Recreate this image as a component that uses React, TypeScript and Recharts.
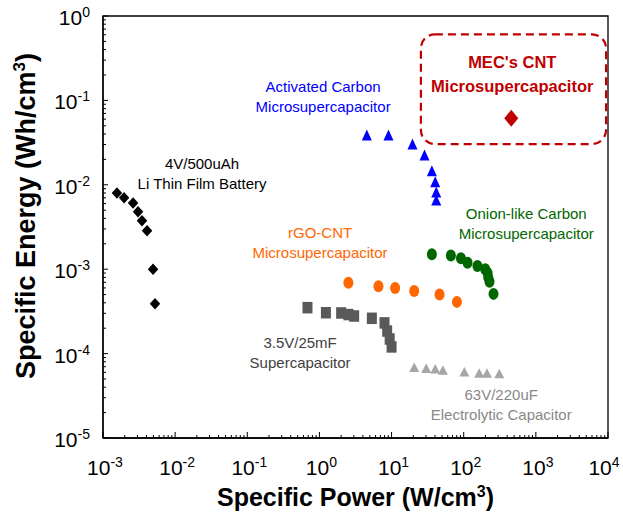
import React from "react";
import {
  ReferenceArea,
  ReferenceDot,
  Scatter,
  ScatterChart,
  XAxis,
  YAxis,
} from "recharts";

const FONT = '"Liberation Sans", Arial, sans-serif';

// 4V/500uAh Li thin film battery
const batteryPower = [1.56e-3, 1.96e-3, 2.61e-3, 3.06e-3, 3.47e-3, 4.08e-3, 4.94e-3, 5.26e-3];
const batteryEnergy = [8.0e-3, 7.0e-3, 6.1e-3, 4.8e-3, 3.76e-3, 2.86e-3, 1.0e-3, 3.9e-4];

// activated carbon microsupercapacitor
const acPower = [4.54, 9.06, 19.5, 28.6, 36.2, 40.3, 41.6, 41.6];
const acEnergy = [0.0389, 0.0389, 0.0304, 0.0226, 0.0147, 0.0109, 0.0082, 0.0066];

// rGO-CNT microsupercapacitor
const rgoPower = [2.52, 6.58, 11.2, 20.6, 46.2, 80.5];
const rgoEnergy = [6.9e-4, 6.3e-4, 6.0e-4, 5.5e-4, 5.0e-4, 4.1e-4];

// onion-like carbon microsupercapacitor
const onionPower = [36.2, 66.4, 91.5, 113, 155, 199, 214, 219, 228, 259];
const onionEnergy = [1.5e-3, 1.45e-3, 1.35e-3, 1.19e-3, 1.09e-3, 1.0e-3, 9.0e-4, 8.0e-4, 7.1e-4, 5.1e-4];

// 3.5V/25mF supercapacitor
const superPower = [0.683, 1.23, 2.0, 2.52, 3.03, 5.33, 7.98, 8.69, 9.41, 10.0];
const superEnergy = [3.5e-4, 3.05e-4, 3.03e-4, 2.9e-4, 2.79e-4, 2.62e-4, 2.31e-4, 1.85e-4, 1.49e-4, 1.2e-4];

// 63V/220uF electrolytic capacitor
const elecPower = [20.6, 30.2, 40.3, 51.4, 102, 164, 210, 311];
const elecEnergy = [6.9e-5, 6.7e-5, 6.6e-5, 6.4e-5, 6.1e-5, 5.9e-5, 5.9e-5, 5.8e-5];

// MEC's CNT microsupercapacitor
const mecPower = [456];
const mecEnergy = [0.0614];

const xMajorTicks = [1e-3, 1e-2, 1e-1, 1, 10, 100, 1000, 10000];
const yMajorTicks = [1e-5, 1e-4, 1e-3, 1e-2, 1e-1, 1];
const minorSteps = [1, 2, 3, 4, 5, 6, 7, 8, 9];

const zip = (xs: number[], ys: number[]) => xs.map((x, i) => ({ x, y: ys[i] }));

const withMinors = (majors: number[]) =>
  majors.flatMap((m, i) => (i === majors.length - 1 ? [m] : minorSteps.map((s) => s * m)));

const isMajor = (v: number) => {
  const l = Math.log10(v);
  return Math.abs(l - Math.round(l)) < 1e-6;
};
const expOf = (v: number) => String(Math.round(Math.log10(v)));

function XTick(props: any) {
  const { x, y, payload } = props;
  const major = isMajor(payload.value);
  // last label is pulled in so it stays inside the picture
  const shift = payload.value >= 1e4 ? -4 : 2;
  return (
    <g>
      <line x1={x} x2={x} y1={y} y2={y - (major ? 6 : 3)} stroke="#000" strokeWidth={1} />
      {major && (
        <text x={x + shift} y={y + 37} textAnchor="middle" fontFamily={FONT} fontSize={21} fill="#000">
          10
          <tspan dy={-8} fontSize={14}>
            {expOf(payload.value)}
          </tspan>
        </text>
      )}
    </g>
  );
}

function YTick(props: any) {
  const { x, y, payload } = props;
  const major = isMajor(payload.value);
  return (
    <g>
      <line x1={x} x2={x + (major ? 5 : 3)} y1={y} y2={y} stroke="#000" strokeWidth={1} />
      {major && (
        <text x={x - 13} y={y + 9} textAnchor="end" fontFamily={FONT} fontSize={21} fill="#000">
          10
          <tspan dy={-8} fontSize={14}>
            {expOf(payload.value)}
          </tspan>
        </text>
      )}
    </g>
  );
}

const diamond = (w: number, h: number, fill: string) => (p: any) => (
  <polygon
    points={`${p.cx},${p.cy - h / 2} ${p.cx + w / 2},${p.cy} ${p.cx},${p.cy + h / 2} ${p.cx - w / 2},${p.cy}`}
    fill={fill}
  />
);
const triangle = (w: number, h: number, fill: string) => (p: any) => (
  <polygon
    points={`${p.cx},${p.cy - h / 2} ${p.cx + w / 2},${p.cy + h / 2} ${p.cx - w / 2},${p.cy + h / 2}`}
    fill={fill}
  />
);
const oval = (rx: number, ry: number, fill: string) => (p: any) => (
  <ellipse cx={p.cx} cy={p.cy} rx={rx} ry={ry} fill={fill} />
);
const square = (w: number, h: number, fill: string) => (p: any) => (
  <rect x={p.cx - w / 2} y={p.cy - h / 2} width={w} height={h} fill={fill} />
);

// two-line annotation centred on a data position
const note = (lines: string[], color: string, size = 15, gap = 20, bold = false) => (p: any) => (
  <text
    textAnchor="middle"
    fontFamily={FONT}
    fontSize={size}
    fontWeight={bold ? "bold" : "normal"}
    fill={color}
  >
    {lines.map((t, i) => (
      <tspan key={i} x={p.cx} y={p.cy + (i - (lines.length - 1) / 2) * gap + size * 0.36}>
        {t}
      </tspan>
    ))}
  </text>
);

export default function App() {
  return (
    <div style={{ position: "absolute", left: 0, top: 0, width: 623, height: 516, background: "#fff" }}>
      <ScatterChart width={623} height={516} margin={{ top: 16, right: 15, bottom: 0, left: 0 }}>
        <XAxis
          type="number"
          dataKey="x"
          scale="log"
          domain={[1e-3, 1e4]}
          ticks={withMinors(xMajorTicks)}
          interval={0}
          height={78}
          tickSize={0}
          tickMargin={0}
          tickLine={false}
          tick={<XTick />}
          axisLine={{ stroke: "#000", strokeWidth: 1.3 }}
          allowDataOverflow
          label={{
            content: () => (
              <text
                x={355.5}
                y={506}
                textAnchor="middle"
                fontFamily={FONT}
                fontSize={25}
                fontWeight="bold"
                fill="#000"
              >
                Specific Power (W/cm
                <tspan dy={-9} fontSize={16}>
                  3
                </tspan>
                <tspan dy={9}>)</tspan>
              </text>
            ),
          }}
        />
        <YAxis
          type="number"
          dataKey="y"
          scale="log"
          domain={[1e-5, 1]}
          ticks={withMinors(yMajorTicks)}
          interval={0}
          width={103}
          tickSize={0}
          tickMargin={0}
          tickLine={false}
          tick={<YTick />}
          axisLine={{ stroke: "#000", strokeWidth: 1.3 }}
          allowDataOverflow
          label={{
            content: () => (
              <text
                transform="translate(35, 216) rotate(-90)"
                textAnchor="middle"
                fontFamily={FONT}
                fontSize={27}
                fontWeight="bold"
                fill="#000"
              >
                Specific Energy (Wh/cm
                <tspan dy={-10} fontSize={17}>
                  3
                </tspan>
                <tspan dy={10}>)</tspan>
              </text>
            ),
          }}
        />
        <ReferenceArea x1={1e-3} x2={1e4} y1={1e-5} y2={1} fill="none" stroke="#000" strokeWidth={1.3} />
        <ReferenceArea
          x1={25.5}
          x2={9400}
          y1={0.0304}
          y2={0.607}
          shape={(p: any) => (
            <rect
              x={p.x}
              y={p.y}
              width={p.width}
              height={p.height}
              rx={14}
              ry={14}
              fill="none"
              stroke="#c00000"
              strokeWidth={2.2}
              strokeDasharray="8 5"
            />
          )}
        />

        <Scatter data={zip(batteryPower, batteryEnergy)} shape={diamond(10.5, 11.5, "#000")} isAnimationActive={false} />
        <Scatter data={zip(acPower, acEnergy)} shape={triangle(10, 11, "#0000ff")} isAnimationActive={false} />
        <Scatter data={zip(rgoPower, rgoEnergy)} shape={oval(5, 6, "#ff6600")} isAnimationActive={false} />
        <Scatter data={zip(onionPower, onionEnergy)} shape={oval(5, 6, "#006600")} isAnimationActive={false} />
        <Scatter data={zip(superPower, superEnergy)} shape={square(10, 11.5, "#595959")} isAnimationActive={false} />
        <Scatter data={zip(elecPower, elecEnergy)} shape={triangle(10, 9.5, "#a6a6a6")} isAnimationActive={false} />
        <Scatter data={zip(mecPower, mecEnergy)} shape={diamond(14, 17, "#c00000")} isAnimationActive={false} />

        <ReferenceDot x={0.0236} y={0.0134} r={0} shape={note(["4V/500uAh", "Li Thin Film Battery"], "#000")} />
        <ReferenceDot x={1.125} y={0.112} r={0} shape={note(["Activated Carbon", "Microsupercapacitor"], "#0000ff")} />
        <ReferenceDot x={1.02} y={2.07e-3} r={0} shape={note(["rGO-CNT", "Microsupercapacitor"], "#ff6600")} />
        <ReferenceDot x={736} y={3.5e-3} r={0} shape={note(["Onion-like Carbon", "Microsupercapacitor"], "#006600")} />
        <ReferenceDot x={0.539} y={1.02e-4} r={0} shape={note(["3.5V/25mF", "Supercapacitor"], "#404040")} />
        <ReferenceDot x={331} y={2.46e-5} r={0} shape={note(["63V/220uF", "Electrolytic Capacitor"], "#888888")} />
        <ReferenceDot
          x={471}
          y={0.2055}
          r={0}
          shape={note(["MEC's CNT", "Microsupercapacitor"], "#c00000", 16.5, 24.3, true)}
        />
      </ScatterChart>
    </div>
  );
}
